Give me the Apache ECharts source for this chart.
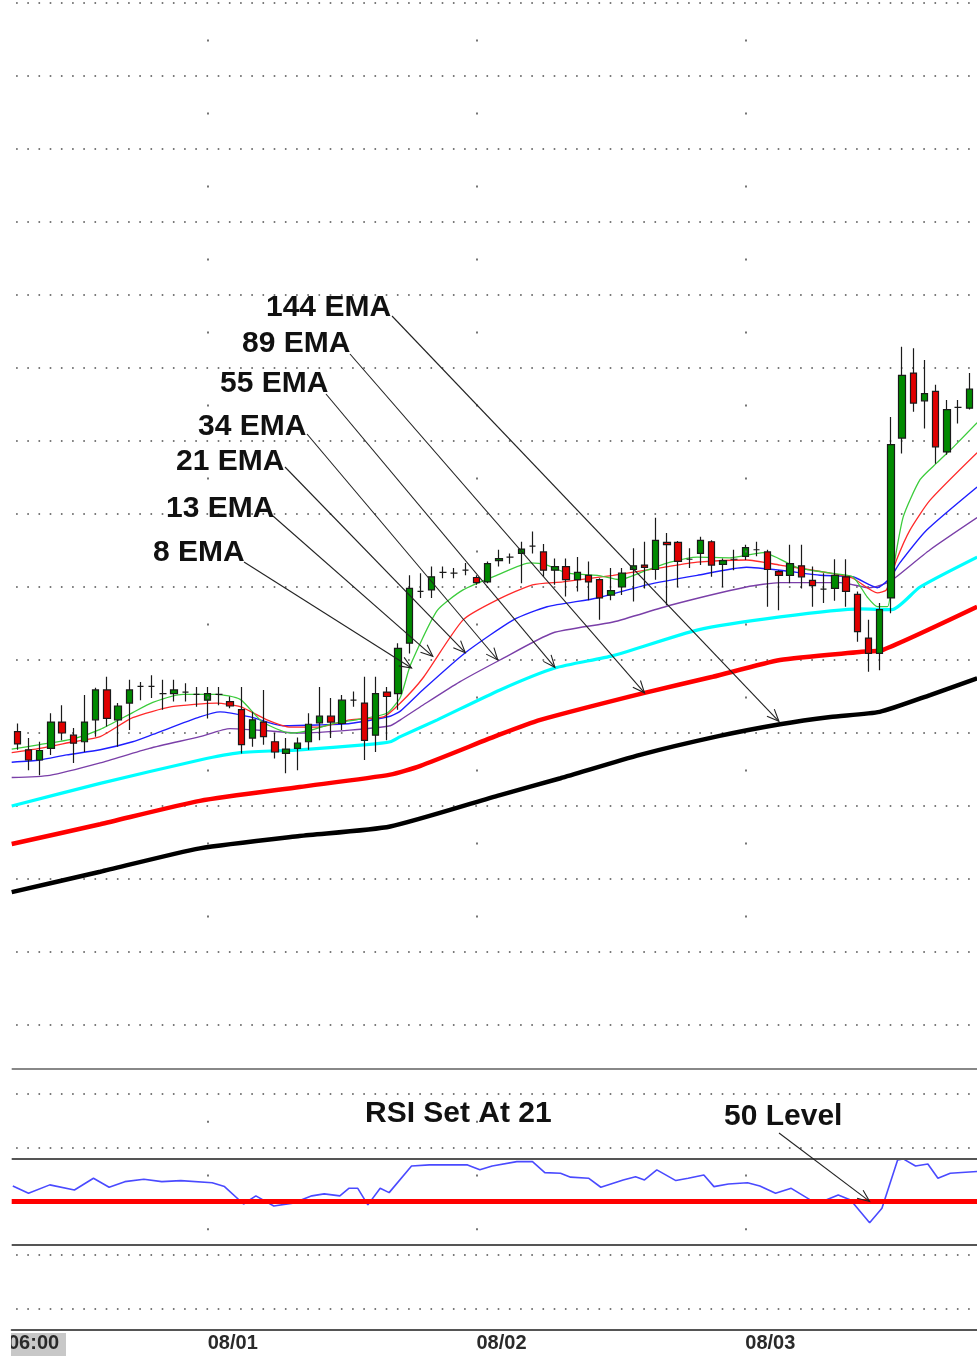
<!DOCTYPE html>
<html>
<head>
<meta charset="utf-8">
<script src="https://cdn.jsdelivr.net/npm/echarts@6/dist/echarts.min.js"></script>
<style>
  html, body { margin: 0; padding: 0; background: #fff; }
  #chart { width: 977px; height: 1360px; }
</style>
</head>
<body>
<div id="chart"></div>
<script>
// hourly bars, bar 0 = 07/31 07:00
const CATEGORIES = []
for (let i = 0; i < 87; i++) {
    const h = (7 + i) % 24
    const d = Math.floor((7 + i) / 24)
    const date = d === 0 ? '07/31' : '08/0' + d
    CATEGORIES.push(date + ' ' + String(h).padStart(2, '0') + ':00')
}

// candles
const OPEN = [140.2, 137.7, 136.3, 137.9, 141.5, 139.7, 138.8, 141.8, 145.9, 141.8,
    144.1, 146.4, 146.4, 145.4, 145.4, 145.6, 145.3, 144.5, 145.3, 144.3,
    143.2, 139.3, 141.5, 138.8, 137.2, 137.9, 138.8, 141.4, 142.3, 141.3,
    144.5, 144.1, 139.7, 145.6, 145.4, 152.3, 159.4, 159.6, 162.0, 161.9,
    162.3, 161.3, 160.7, 163.6, 164.1, 164.6, 165.6, 164.8, 162.3, 162.8,
    161.0, 161.6, 161.0, 158.9, 160.0, 162.4, 163.0, 162.4, 166.1, 166.1,
    163.8, 164.6, 166.2, 163.1, 163.8, 164.2, 165.1, 164.8, 162.1, 161.6,
    162.9, 160.9, 159.7, 159.8, 161.4, 159.0, 153.0, 150.9, 158.5, 180.4,
    189.3, 185.5, 186.8, 178.5, 184.6, 184.5]
const CLOSE = [138.5, 136.3, 137.6, 141.5, 140.0, 138.6, 141.5, 145.9, 142.0, 143.7,
    145.9, 146.4, 146.4, 145.4, 145.9, 145.6, 145.3, 145.4, 145.3, 143.7,
    138.4, 141.8, 139.5, 137.4, 137.8, 138.6, 141.2, 142.3, 141.5, 144.5,
    144.5, 139.0, 145.4, 145.0, 151.6, 159.8, 159.4, 161.4, 162.0, 161.9,
    162.3, 160.6, 163.2, 163.9, 164.1, 165.2, 165.6, 162.3, 162.8, 161.0,
    162.0, 160.7, 158.5, 159.5, 161.9, 162.9, 162.7, 166.4, 165.8, 163.5,
    163.8, 166.4, 163.0, 163.6, 163.8, 165.4, 165.1, 162.4, 161.6, 163.2,
    161.4, 160.2, 159.7, 161.6, 159.4, 153.9, 150.9, 156.9, 179.5, 189.0,
    185.2, 186.5, 179.2, 184.3, 184.6, 187.1]
const LOW = [137.7, 134.9, 134.2, 137.0, 139.0, 135.9, 137.4, 139.5, 140.9, 138.1,
    140.4, 144.5, 144.8, 143.2, 144.3, 144.3, 143.6, 142.0, 143.8, 143.4,
    137.2, 138.1, 138.4, 136.5, 134.5, 134.9, 137.7, 139.0, 139.3, 140.4,
    143.6, 136.3, 137.4, 139.0, 143.2, 150.9, 158.5, 158.5, 161.2, 161.2,
    161.6, 160.3, 160.5, 162.8, 163.2, 160.5, 164.6, 161.4, 160.3, 158.7,
    159.4, 158.2, 155.5, 158.2, 158.9, 158.0, 159.8, 161.0, 157.5, 160.0,
    162.6, 163.0, 161.4, 160.0, 162.3, 163.7, 164.2, 157.3, 156.8, 160.5,
    159.8, 157.3, 157.8, 158.1, 157.3, 152.5, 148.4, 148.6, 156.4, 178.3,
    184.0, 181.7, 176.9, 178.1, 182.4, 184.3]
const HIGH = [141.3, 139.3, 138.8, 142.7, 143.8, 140.7, 145.2, 146.2, 147.7, 144.1,
    147.3, 147.0, 147.9, 147.3, 147.3, 146.8, 146.3, 146.3, 146.3, 145.0,
    146.3, 142.9, 145.9, 140.0, 139.3, 139.4, 142.7, 146.3, 144.8, 145.2,
    145.7, 147.7, 147.7, 146.3, 152.3, 161.6, 161.9, 162.8, 162.8, 162.6,
    163.3, 161.6, 163.5, 165.1, 164.6, 166.2, 167.6, 165.9, 163.9, 163.9,
    164.1, 163.5, 161.2, 162.6, 162.6, 165.3, 166.2, 169.5, 167.4, 166.3,
    165.3, 166.9, 166.4, 163.9, 165.1, 165.8, 166.2, 165.1, 162.3, 165.8,
    165.8, 162.8, 161.9, 163.8, 163.8, 159.4, 155.5, 157.8, 183.3, 192.9,
    192.7, 191.1, 187.7, 185.6, 185.6, 189.3]

// moving averages as [bar, value] vertices
const EMA8 = [[-0.5, 137.8], [2.0, 138.4], [5.0, 139.2], [7.4, 140.5], [10.3, 142.8], [12.1, 144.2],
    [14.8, 145.3], [17.8, 145.3], [19.9, 144.6], [21.9, 141.5], [24.4, 140.0], [26.2, 140.4],
    [28.2, 141.3], [30.6, 141.9], [33.0, 142.7], [34.2, 144.9], [35.1, 149.3], [37.5, 156.8],
    [39.8, 159.6], [42.8, 161.6], [45.8, 163.3], [47.3, 163.0], [49.1, 161.9], [51.8, 161.6],
    [53.8, 161.0], [56.2, 162.3], [58.3, 163.4], [60.7, 164.1], [63.6, 164.0], [66.6, 164.7],
    [69.6, 162.7], [72.6, 161.9], [74.6, 161.4], [75.9, 158.6], [76.8, 157.3], [77.7, 157.3],
    [78.2, 162.3], [79.1, 169.6], [80.6, 174.7], [82.1, 177.0], [83.6, 179.2], [85.7, 182.5]]
const EMA13 = [[-0.5, 137.3], [2.0, 137.9], [5.0, 138.8], [7.4, 139.5], [10.3, 142.1], [13.8, 143.6],
    [17.8, 144.1], [19.9, 143.6], [22.3, 141.8], [24.4, 140.8], [26.8, 140.8],
    [29.7, 141.8], [32.7, 142.2], [34.2, 144.1], [36.2, 147.5], [39.8, 155.5], [42.8, 158.2],
    [46.0, 160.3], [48.7, 160.7], [53.2, 161.6], [57.7, 162.7], [60.7, 163.4], [65.1, 163.7],
    [68.1, 163.0], [72.6, 161.9], [74.6, 161.2], [76.8, 159.2], [77.6, 159.6], [78.5, 163.7],
    [79.7, 167.8], [81.5, 171.9], [85.7, 178.4]]
const EMA21 = [[-0.5, 136.0], [2.0, 136.3], [4.4, 137.0], [7.4, 137.7], [10.3, 138.8], [12.1, 139.8],
    [16.3, 142.2], [18.1, 142.9], [20.8, 142.2], [23.7, 141.0], [26.8, 141.1], [29.7, 141.3],
    [33.3, 142.3], [34.2, 143.0], [36.2, 145.9], [40.0, 151.0], [44.3, 155.5], [47.3, 157.3],
    [51.8, 158.5], [56.2, 160.3], [60.7, 161.6], [65.1, 162.7], [68.1, 162.3], [71.7, 161.6],
    [74.6, 161.4], [76.8, 159.9], [77.9, 161.2], [78.8, 163.3], [81.2, 167.8], [85.7, 173.7]]
const EMA34 = [[-0.5, 133.9], [2.9, 134.2], [7.4, 135.9], [11.8, 137.9], [16.3, 139.5], [19.0, 140.6],
    [22.3, 140.3], [25.2, 140.0], [29.7, 140.4], [33.3, 141.0], [34.2, 141.8], [36.2, 143.8],
    [39.5, 147.0], [43.1, 150.0], [47.8, 153.7], [53.2, 155.2], [58.3, 157.5], [65.1, 160.0],
    [68.1, 160.6], [73.5, 160.6], [76.1, 159.9], [77.7, 160.6], [78.5, 161.4], [81.5, 165.1],
    [85.7, 169.5]]
const EMA55 = [[-0.5, 130.0], [7.4, 133.1], [16.3, 136.3], [19.9, 137.3], [25.2, 137.7], [31.2, 138.4],
    [33.3, 138.8], [34.2, 139.5], [37.5, 141.8], [43.1, 145.9], [48.0, 148.9], [53.2, 150.6],
    [60.7, 154.1], [68.1, 155.9], [75.2, 157.0], [78.1, 156.9], [80.6, 160.0], [85.7, 164.1]]
const EMA89 = [[-0.5, 124.8], [7.4, 127.5], [16.3, 130.7], [25.2, 132.6], [33.3, 134.3], [36.0, 135.5],
    [43.1, 139.8], [46.7, 141.8], [56.0, 145.5], [62.1, 147.7], [68.1, 150.0], [75.2, 151.1],
    [77.3, 151.4], [85.7, 157.3]]
const EMA144 = [[-0.5, 118.2], [7.4, 121.0], [16.3, 124.2], [25.2, 125.9], [33.3, 127.2], [43.1, 131.5],
    [48.5, 133.8], [55.6, 137.0], [62.7, 139.6], [68.1, 141.2], [72.6, 142.2], [77.0, 142.9],
    [81.5, 145.2], [85.7, 147.5]]

// RSI(21)
const RSI = [[-0.4, 57.2], [1.0, 53.8], [2.9, 57.7], [5.1, 55.3], [6.8, 60.8], [8.2, 56.6], [9.6, 59.2],
    [11.3, 60.3], [12.9, 59.2], [14.6, 59.7], [17.4, 58.7], [18.5, 56.9], [20.2, 48.8], [21.3, 52.6],
    [22.9, 47.9], [24.6, 49.2], [26.3, 52.6], [27.4, 53.5], [28.8, 52.6], [29.6, 56.1], [30.4, 56.1],
    [31.3, 48.4], [32.4, 56.1], [33.2, 54.1], [35.2, 66.5], [36.8, 67.0], [40.2, 67.0], [41.3, 64.7],
    [42.4, 66.5], [44.6, 68.5], [46.0, 68.5], [47.1, 63.4], [48.5, 63.1], [49.4, 61.3], [51.0, 60.8],
    [52.1, 56.6], [54.1, 60.0], [55.2, 61.5], [56.0, 60.0], [57.1, 64.7], [58.8, 59.7], [59.9, 60.8],
    [61.3, 62.3], [62.2, 56.9], [63.5, 58.1], [65.2, 58.7], [66.3, 57.2], [67.7, 53.8], [69.1, 56.1],
    [70.8, 50.7], [72.2, 50.7], [73.3, 53.0], [74.4, 50.7], [76.1, 40.1], [77.2, 46.8], [78.6, 69.3],
    [79.1, 69.8], [80.2, 66.5], [81.3, 67.4], [82.2, 60.8], [83.3, 63.1], [85.7, 63.9]]
const RSI_GRID = [0, 25, 75, 100]
const RSI_BANDS = [30, 70]
const RSI_MID = 50

// annotations
const EMA_LABELS = ['144 EMA', '89 EMA', '55 EMA', '34 EMA', '21 EMA', '13 EMA', '8 EMA']
const EMA_TIPS = [[68.0, 141.6], [56.0, 145.5], [48.0, 149.0], [42.9, 150.0], [40.0, 151.0], [37.1, 150.5], [35.2, 148.9]]
const RSI_LABEL = 'RSI Set At 21'
const LEVEL_LABEL = '50 Level'
const LEVEL_TIP = [76.1, 50]

// layout
const PLOT_LEFT = 11.7
const PLOT_WIDTH = 974.4
const MAIN_MIN = 100, MAIN_MAX = 240
const RSI_MIN = -9.8, RSI_MAX = 111.6
const FONT = '"Liberation Sans", Arial, sans-serif'
const LABEL_POS = [[266, 308, 392, 316], [242, 344, 350, 354], [220, 384, 326, 394], [198, 427, 307, 434],
    [176, 462, 285, 467], [166, 509, 273, 516], [153, 553, 244, 562]]
const DOT = { color: '#4d4d4d', width: 1.6, type: [1.6, 9.6], dashOffset: 6.8 }
const VDOT = { color: '#666', width: 1.8 }

const dayStarts = CATEGORIES.map((c, i) => c.endsWith('00:00') ? i : -1).filter(i => i >= 0)

const chart = echarts.init(document.getElementById('chart'))

const quiet = { symbol: ['none', 'none'], silent: true, label: { show: false }, animation: false }

const ema = (name, data, color, width) => ({
    name, type: 'line', xAxisIndex: 1, yAxisIndex: 0, data,
    symbol: 'none', silent: true, z: 2, smooth: 0.2,
    lineStyle: { color, width }
})

const option = {
    animation: false,
    backgroundColor: '#fff',
    grid: [
        { left: PLOT_LEFT, top: 3, width: PLOT_WIDTH, height: 1022, outerBoundsMode: 'none' },
        { left: PLOT_LEFT, top: 1069, width: PLOT_WIDTH, height: 261, outerBoundsMode: 'none' }
    ],
    xAxis: [
        { type: 'category', gridIndex: 0, data: CATEGORIES, show: false },
        { type: 'value', gridIndex: 0, min: -0.5, max: 86.5, show: false },
        {
            type: 'category', gridIndex: 1, data: CATEGORIES, position: 'bottom',
            axisLine: { onZero: false, lineStyle: { color: '#555', width: 2 } },
            axisTick: {
                inside: true, length: 4, alignWithLabel: true,
                interval: (i, v) => v.endsWith('00:00'),
                lineStyle: { color: '#555' }
            },
            axisLabel: {
                interval: (i, v) => v.endsWith('00:00'),
                formatter: v => v.split(' ')[0],
                align: 'left', margin: 3, hideOverlap: false,
                fontFamily: FONT, fontWeight: 'bold', fontSize: 20, color: '#2a2a2a'
            },
            splitLine: { show: false }
        },
        { type: 'value', gridIndex: 1, min: -0.5, max: 86.5, show: false }
    ],
    yAxis: [
        {
            type: 'value', gridIndex: 0, min: MAIN_MIN, max: MAIN_MAX, interval: 10,
            axisLine: { show: false }, axisTick: { show: false }, axisLabel: { show: false },
            splitLine: { show: true, lineStyle: DOT }
        },
        {
            type: 'value', gridIndex: 1, min: RSI_MIN, max: RSI_MAX,
            axisLine: { show: false }, axisTick: { show: false }, axisLabel: { show: false },
            splitLine: { show: false }
        }
    ],
    series: [
        Object.assign(ema('EMA144', EMA144, '#000000', 4.5), {
            markLine: Object.assign({}, quiet, {
                lineStyle: Object.assign({ type: [2, 71] }, VDOT),
                data: dayStarts.map(i => [{ coord: [i, 235] }, { coord: [i, 105] }])
            })
        }),
        ema('EMA89', EMA89, '#ff0000', 4.5),
        ema('EMA55', EMA55, '#00ffff', 3.2),
        ema('EMA34', EMA34, '#7a3fa8', 1.4),
        ema('EMA21', EMA21, '#1f1fff', 1.4),
        ema('EMA13', EMA13, '#ff2a2a', 1.3),
        ema('EMA8', EMA8, '#3ccc3c', 1.3),
        {
            name: 'price', type: 'candlestick', xAxisIndex: 0, yAxisIndex: 0, z: 3,
            barWidth: 7,
            data: OPEN.map((o, i) => [o, CLOSE[i], LOW[i], HIGH[i]]),
            itemStyle: {
                color: '#008a00', color0: '#e00000',
                borderColor: '#1a1a1a', borderColor0: '#1a1a1a', borderColorDoji: '#1a1a1a',
                borderWidth: 1.2
            }
        },
        {
            name: 'levels', type: 'line', xAxisIndex: 3, yAxisIndex: 1, data: [], z: 1,
            markLine: Object.assign({}, quiet, {
                data: [
                    ...RSI_GRID.map(v => ({ yAxis: v, lineStyle: DOT })),
                    ...RSI_BANDS.map(v => ({ yAxis: v, lineStyle: { color: '#555', width: 2, type: 'solid' } })),
                    { yAxis: RSI_MID, lineStyle: { color: '#ff0000', width: 5, type: 'solid' } },
                    { yAxis: RSI_MAX, lineStyle: { color: '#888', width: 2, type: 'solid' } },
                    ...dayStarts.map(i => [
                        { coord: [i, 87.5], lineStyle: Object.assign({ type: [2, 51.75] }, VDOT) },
                        { coord: [i, 12.5] }
                    ])
                ]
            })
        },
        {
            name: 'RSI', type: 'line', xAxisIndex: 3, yAxisIndex: 1, data: RSI, z: 3,
            symbol: 'none', silent: true,
            lineStyle: { color: '#4a4aff', width: 1.6 }
        }
    ]
}

chart.setOption(option)

// arrows: open V head at the tip
function arrow(from, tip) {
    const dx = tip[0] - from[0], dy = tip[1] - from[1]
    const len = Math.hypot(dx, dy)
    const ux = dx / len, uy = dy / len
    const L = 13, a = 0.4
    const head = s => [
        tip[0] - L * (ux * Math.cos(a) - s * uy * Math.sin(a)),
        tip[1] - L * (uy * Math.cos(a) + s * ux * Math.sin(a))
    ]
    return [
        { type: 'polyline', silent: true, z: 10, shape: { points: [from, tip] }, style: { stroke: '#222', lineWidth: 1.1, fill: null } },
        { type: 'polyline', silent: true, z: 10, shape: { points: [head(1), tip, head(-1)] }, style: { stroke: '#222', lineWidth: 1.1, fill: null } }
    ]
}

const label = (text, x, y) => ({
    type: 'text', x, y, z: 11, silent: true,
    style: { text, fill: '#111', font: 'bold 30px ' + FONT, align: 'left', verticalAlign: 'middle' }
})

const graphics = []
EMA_LABELS.forEach((t, k) => {
    const p = LABEL_POS[k]
    graphics.push(label(t, p[0], p[1]))
    const tip = chart.convertToPixel({ xAxisIndex: 1, yAxisIndex: 0 }, EMA_TIPS[k])
    graphics.push(...arrow([p[2], p[3]], tip))
})
graphics.push(label(RSI_LABEL, 365, 1114))
graphics.push(label(LEVEL_LABEL, 724, 1117))
graphics.push(...arrow([779, 1133], chart.convertToPixel({ xAxisIndex: 3, yAxisIndex: 1 }, LEVEL_TIP)))

// first time label, cut at the left edge
graphics.push({ type: 'rect', silent: true, z: 11, shape: { x: 11, y: 1333, width: 55, height: 23 }, style: { fill: '#c8c8c8' } })
graphics.push({
    type: 'text', x: 8, y: 1333, z: 12, silent: true,
    style: { text: '06:00', fill: '#2a2a2a', font: 'bold 20px ' + FONT, align: 'left', verticalAlign: 'top' }
})
graphics.push({ type: 'rect', silent: true, z: 13, shape: { x: 0, y: 1331, width: 11, height: 29 }, style: { fill: '#fff' } })

chart.setOption({ graphic: graphics })
</script>
</body>
</html>
